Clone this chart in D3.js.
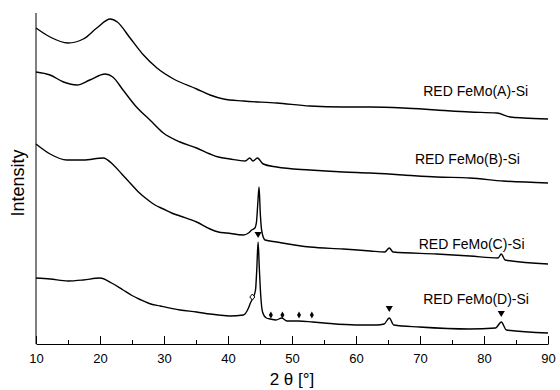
<!DOCTYPE html>
<html>
<head>
<meta charset="utf-8">
<script src="https://cdn.jsdelivr.net/npm/d3@7"></script>
<style>
  body { margin: 0; background: #fff; }
  svg { display: block; font-family: Arial, "Liberation Sans", sans-serif; }
</style>
</head>
<body>
<div id="chart"></div>
<script>
// XRD patterns, [2theta, intensity (a.u., stacked)]
var seriesA = [[10,316],[12.2,307],[15,301],[17.4,305],[19.5,316],[21.6,325],[22.7,322],[24.7,306],[26.8,289],
  [28.9,276],[31.5,265],[35.1,255],[37.2,249],[39.3,245],[42.4,243],[47.6,241],[52.8,238],[58,237],[62.2,237],
  [67.4,236],[72.6,234],[77.8,232],[82,231],[84.1,227],[86.2,226],[90,225]];
var seriesB = [[10,272],[12.2,269],[14.3,262],[16.4,259],[18.4,264],[20.8,270],[22,267],[23.6,254],[25.7,237],
  [27.8,224],[29.9,211],[32.5,202],[35.1,196],[37.2,190],[38.5,187],[40.3,185],[42.7,183],[43.4,186],[43.9,183],
  [44.6,186],[45.5,180],[47.6,177],[52.8,174],[58,172],[62.2,171],[67.4,169],[72.6,167],[77.8,166],[83,163],[90,161]];
var seriesC = [[10,200],[12.2,190],[14.8,184],[17.4,184],[20.5,186],[22.1,179],[23.4,170],[24.7,161],[26,152],
  [27.3,145],[28.6,139],[29.9,135],[31.2,131],[32.5,128],[35.1,122],[37.2,115],[38.5,112],[39.8,111],[42.4,109],
  [43.2,111],[43.7,114],[44.2,116],[44.45,122],[44.65,140],[44.85,157],[45.05,130],[45.3,112],[45.8,104],[47.6,102],
  [52.8,97],[58,95],[62.2,93],[64.5,92],[65.2,96],[65.8,92],[72.6,90],[77.8,88],[82.2,86],[82.7,90],[83.3,84],[90,80]];
var seriesD = [[10,66],[12.2,65],[15,63],[17.4,64],[20,66],[21.8,61],[23.6,54],[25,48.5],[26.25,44.5],[27.7,40.5],
  [29.4,38],[32.5,34],[35.1,32],[37.2,30],[38.5,29],[40.3,28],[42.4,29],[43.2,36],[43.5,41],[43.9,46],[44.3,54],
  [44.5,75],[44.7,102],[44.9,75],[45.1,50],[45.4,32],[46,26],[46.6,25],[47.5,24],[48.4,26],[49.2,23],[51,23],
  [53.2,22],[55,21],[60,19],[63.2,19],[64.4,20],[65.2,26],[65.9,19],[69.9,17],[77.7,15],[81.8,16],[82.7,22],
  [83.5,14],[90,11]];

var seriesNames = ["RED FeMo(A)-Si", "RED FeMo(B)-Si", "RED FeMo(C)-Si", "RED FeMo(D)-Si"];

// phase markers [2theta, intensity]
var fullTriangles = [[44.7,110],[65.2,36],[82.7,31]];
var fullDiamonds = [[46.7,29],[48.5,29],[51.1,29],[53.1,29]];
var openDiamonds = [[43.8,47]];

var xTicks = [10, 20, 30, 40, 50, 60, 70, 80, 90];
var xMinor = [15, 25, 35, 45, 55, 65, 75, 85];

var width = 560, height = 390;
var margin = { top: 13, right: 12, bottom: 46, left: 36 };

var svg = d3.select("#chart").append("svg")
    .attr("width", width)
    .attr("height", height);

var x = d3.scaleLinear().domain([10, 90]).range([margin.left, width - margin.right]);
var y = d3.scaleLinear().domain([0, 331]).range([height - margin.bottom, margin.top]);

var line = d3.line()
    .curve(d3.curveMonotoneX)
    .x(function (d) { return x(d[0]); })
    .y(function (d) { return y(d[1]); });

[seriesA, seriesB, seriesC, seriesD].forEach(function (s) {
    svg.append("path")
        .datum(s)
        .attr("fill", "none")
        .attr("stroke", "#000")
        .attr("stroke-width", 1.4)
        .attr("stroke-linejoin", "round")
        .attr("d", line);
});

// axes
var xAxis = svg.append("g")
    .attr("transform", "translate(0," + y(0) + ")")
    .call(d3.axisBottom(x).tickValues(xTicks).tickSizeInner(-8).tickSizeOuter(0).tickPadding(10));
xAxis.selectAll("text").attr("font-size", 13).attr("font-family", "Arial, 'Liberation Sans', sans-serif").attr("fill", "#000");
xAxis.selectAll("line, path").attr("stroke", "#000");

var xMinorAxis = svg.append("g")
    .attr("transform", "translate(0," + y(0) + ")")
    .call(d3.axisBottom(x).tickValues(xMinor).tickSizeInner(-4).tickSizeOuter(0).tickFormat(""));
xMinorAxis.select(".domain").remove();
xMinorAxis.selectAll("line").attr("stroke", "#000");

svg.append("line")
    .attr("x1", x(10)).attr("x2", x(10))
    .attr("y1", y(0)).attr("y2", y(331))
    .attr("stroke", "#000");

// axis titles
svg.append("text")
    .attr("x", (x(10) + x(90)) / 2)
    .attr("y", 385)
    .attr("text-anchor", "middle")
    .attr("font-size", 17)
    .text("2 \u03b8 [\u00b0]");

svg.append("text")
    .attr("transform", "translate(24,183) rotate(-90)")
    .attr("text-anchor", "middle")
    .attr("font-size", 18)
    .text("Intensity");

// series labels
var labelPos = [[70.5, 248], [69.2, 180], [69.8, 95], [70.5, 40]];
svg.selectAll(".lbl")
    .data(seriesNames)
    .enter().append("text")
    .attr("class", "lbl")
    .attr("x", function (d, i) { return x(labelPos[i][0]); })
    .attr("y", function (d, i) { return y(labelPos[i][1]); })
    .attr("font-size", 14)
    .text(function (d) { return d; });

// markers
var tri = d3.symbol().type(d3.symbolTriangle).size(22);
svg.selectAll(".tri")
    .data(fullTriangles)
    .enter().append("path")
    .attr("d", tri)
    .attr("transform", function (d) { return "translate(" + x(d[0]) + "," + y(d[1]) + ") rotate(180)"; })
    .attr("fill", "#000");

function diamond(w, h) {
    return "M0," + (-h) + "L" + w + ",0L0," + h + "L" + (-w) + ",0Z";
}
svg.selectAll(".dia")
    .data(fullDiamonds)
    .enter().append("path")
    .attr("d", diamond(2, 3.5))
    .attr("transform", function (d) { return "translate(" + x(d[0]) + "," + y(d[1]) + ")"; })
    .attr("fill", "#000");

svg.selectAll(".odia")
    .data(openDiamonds)
    .enter().append("path")
    .attr("d", diamond(2.5, 3))
    .attr("transform", function (d) { return "translate(" + x(d[0]) + "," + y(d[1]) + ")"; })
    .attr("fill", "#fff")
    .attr("stroke", "#000")
    .attr("stroke-width", 1);
</script>
</body>
</html>
